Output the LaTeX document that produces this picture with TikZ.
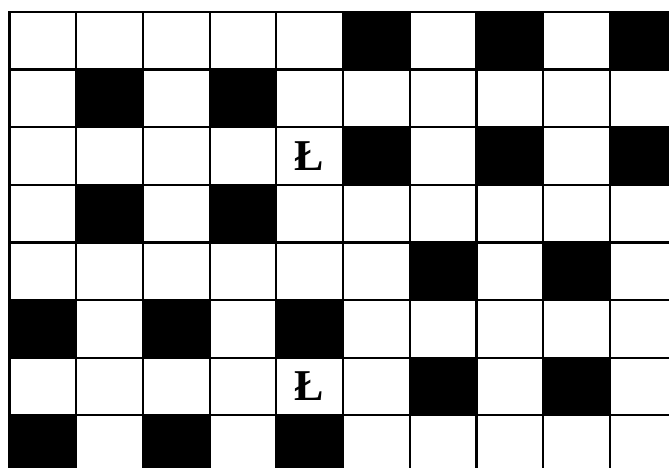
\documentclass[tikz,border=0pt]{standalone}
\usepackage{fontspec}
\setmainfont{Liberation Serif}
\begin{document}
\begin{tikzpicture}[x=1pt,y=-1pt,
  gridline/.style={line width=2.2pt,line cap=rect},
  letter/.style={font=\bfseries\fontsize{44}{44}\selectfont,inner sep=0pt}]
\useasboundingbox (0,0) rectangle (669,468);
\clip (0,0) rectangle (669,468);
\def\cw{66.7}\def\ch{57.6}\def\ox{9.5}\def\oy{12}
\foreach \c/\r in {5/0,7/0,9/0,1/1,3/1,5/2,7/2,9/2,1/3,3/3,6/4,8/4,0/5,2/5,4/5,6/6,8/6,0/7,2/7,4/7}
  \fill[black] (\ox+\c*\cw,\oy+\r*\ch) rectangle ++(\cw,\ch);
\foreach \i in {0,...,10}
  \draw[gridline] (\ox+\i*\cw,\oy) -- (\ox+\i*\cw,\oy+8*\ch);
\foreach \j in {0,...,8}
  \draw[gridline] (\ox,\oy+\j*\ch) -- (\ox+10*\cw,\oy+\j*\ch);
\node[letter] (L1) at (\ox+4.5*\cw,\oy+2.5*\ch) {Ł};
\node[letter] (L2) at (\ox+4.5*\cw,\oy+6.5*\ch) {Ł};
\end{tikzpicture}
\end{document}
